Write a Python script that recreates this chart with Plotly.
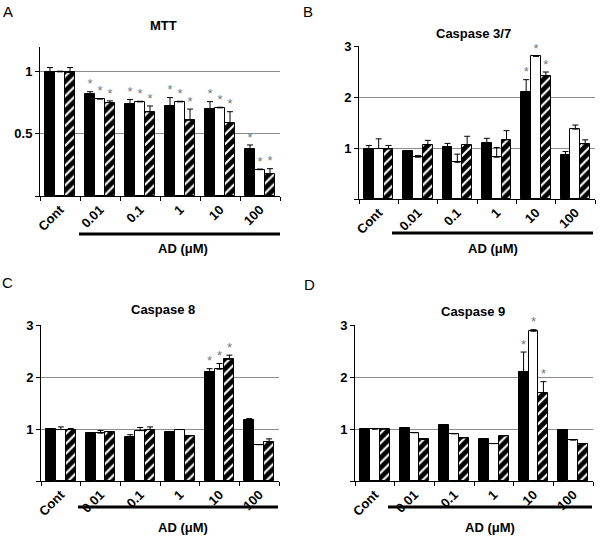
import plotly.graph_objects as go
from plotly.subplots import make_subplots

W, H = 600, 541

groups = ['Cont', '0.01', '0.1', '1', '10', '100']

# MTT
mtt_black = [1.0, 0.82, 0.737, 0.728, 0.70, 0.379]
mtt_black_err = [0.035, 0.02, 0.04, 0.065, 0.06, 0.032]
mtt_white = [1.0, 0.78, 0.758, 0.758, 0.71, 0.212]
mtt_white_err = [0.005, 0.005, 0.005, 0.005, 0.005, 0.005]
mtt_hatch = [0.995, 0.753, 0.677, 0.61, 0.589, 0.18]
mtt_hatch_err = [0.04, 0.013, 0.048, 0.09, 0.09, 0.04]
mtt_sig = [0, 1, 1, 1, 1, 1]

# Caspase 3/7
c37_black = [0.99, 0.95, 1.01, 1.09, 2.10, 0.87]
c37_black_err = [0.06, None, 0.08, 0.10, 0.24, 0.06]
c37_white = [0.99, 0.82, 0.72, 0.82, 2.80, 1.37]
c37_white_err = [0.19, 0.03, 0.16, 0.19, None, 0.08]
c37_hatch = [0.98, 1.05, 1.05, 1.16, 2.41, 1.08]
c37_hatch_err = [0.07, 0.10, 0.18, 0.18, 0.08, 0.08]
c37_sig = [0, 0, 0, 0, 1, 0]

# Caspase 8
c8_black = [1.0, 0.93, 0.85, 0.94, 2.10, 1.17]
c8_black_err = [0.01, None, 0.04, None, 0.06, 0.03]
c8_white = [0.99, 0.92, 0.97, 0.99, 2.15, 0.70]
c8_white_err = [0.05, 0.05, 0.06, None, 0.11, None]
c8_hatch = [0.99, 0.94, 0.99, 0.87, 2.34, 0.75]
c8_hatch_err = [0.02, None, 0.05, None, 0.08, 0.06]
c8_sig = [0, 0, 0, 0, 1, 0]

# Caspase 9
c9_black = [1.0, 1.01, 1.07, 0.80, 2.10, 0.99]
c9_black_err = [None, None, None, None, 0.38, None]
c9_white = [1.0, 0.93, 0.91, 0.72, 2.88, 0.79]
c9_white_err = [None, None, None, None, 0.03, None]
c9_hatch = [1.0, 0.80, 0.83, 0.87, 1.69, 0.71]
c9_hatch_err = [None, None, None, None, 0.22, None]
c9_sig = [0, 0, 0, 0, 1, 0]

panels = [
    dict(letter='A', title='MTT', row=1, col=1,
         series=[(mtt_black, mtt_black_err), (mtt_white, mtt_white_err), (mtt_hatch, mtt_hatch_err)],
         sig=mtt_sig, yrange=[0, 1.2], yticks=[0, 0.5, 1], ytext=['', '0.5', '1'],
         xpx=(40, 280), ypx=(47, 196), letter_pos=(8, 11), title_pos=(163, 25),
         bar_line=(79, 280, 234), ad_pos=(183, 248)),
    dict(letter='B', title='Caspase 3/7', row=1, col=2,
         series=[(c37_black, c37_black_err), (c37_white, c37_white_err), (c37_hatch, c37_hatch_err)],
         sig=c37_sig, yrange=[0, 3], yticks=[0, 1, 2, 3], ytext=['', '1', '2', '3'],
         xpx=(359, 595), ypx=(46, 199), letter_pos=(308, 12), title_pos=(473, 33),
         bar_line=(392, 593, 233), ad_pos=(493, 248)),
    dict(letter='C', title='Caspase 8', row=2, col=1,
         series=[(c8_black, c8_black_err), (c8_white, c8_white_err), (c8_hatch, c8_hatch_err)],
         sig=c8_sig, yrange=[0, 3], yticks=[0, 1, 2, 3], ytext=['', '1', '2', '3'],
         xpx=(41, 279), ypx=(325, 481), letter_pos=(7, 282), title_pos=(163, 309),
         bar_line=(78, 278, 507), ad_pos=(183, 527)),
    dict(letter='D', title='Caspase 9', row=2, col=2,
         series=[(c9_black, c9_black_err), (c9_white, c9_white_err), (c9_hatch, c9_hatch_err)],
         sig=c9_sig, yrange=[0, 3], yticks=[0, 1, 2, 3], ytext=['', '1', '2', '3'],
         xpx=(355, 593), ypx=(325, 481), letter_pos=(309, 284), title_pos=(473, 311),
         bar_line=(388, 592, 507), ad_pos=(490, 527)),
]

offsets = [-0.25, 0.0, 0.25]
styles = [
    dict(color='black'),
    dict(color='white'),
    dict(color='white', pattern=dict(shape='/', fgcolor='black', bgcolor='white',
                                     fgopacity=1, size=7, solidity=0.7)),
]

bold = dict(family='Liberation Sans, Arial', size=13, color='black', weight='bold')

fig = make_subplots(rows=2, cols=2)

for p in panels:
    idx = list(range(len(groups)))
    for k, (vals, errs) in enumerate(p['series']):
        xs = [i + offsets[k] for i in idx]
        fig.add_trace(go.Bar(
            x=xs, y=vals, width=0.25,
            marker=dict(line=dict(color='black', width=1), **styles[k]),
            error_y=dict(type='data', symmetric=False, array=errs,
                         arrayminus=[0] * len(vals), color='black', thickness=1, width=3),
            showlegend=False,
        ), row=p['row'], col=p['col'])
        star_x = [x for x, s in zip(xs, p['sig']) if s]
        star_y = [v + (e or 0) for v, e, s in zip(vals, errs, p['sig']) if s]
        fig.add_trace(go.Scatter(
            x=star_x, y=star_y, mode='text', text=['*'] * len(star_x),
            textposition='top center', cliponaxis=False,
            textfont=dict(family='Liberation Sans, Arial', size=13, color='#777777'),
            showlegend=False, hoverinfo='skip',
        ), row=p['row'], col=p['col'])

    x0, x1 = p['xpx']
    y0, y1 = p['ypx']
    fig.update_xaxes(
        domain=[x0 / W, x1 / W], range=[-0.5, 5.5], automargin=False,
        tickmode='array', tickvals=idx, ticktext=groups, tickangle=-45,
        ticks='', tickfont=bold, showgrid=False, zeroline=False,
        showline=True, linecolor='black', linewidth=1,
        minor=dict(tickmode='linear', tick0=-0.5, dtick=1, ticks='outside',
                   ticklen=4, tickcolor='black', tickwidth=1, showgrid=False),
        row=p['row'], col=p['col'])
    fig.update_yaxes(
        domain=[1 - y1 / H, 1 - y0 / H], range=p['yrange'], automargin=False,
        tickmode='array', tickvals=p['yticks'], ticktext=p['ytext'],
        ticks='outside', ticklen=4, tickcolor='black', tickfont=bold,
        showgrid=True, gridcolor='#8c8c8c', gridwidth=1, zeroline=False,
        showline=True, linecolor='black', linewidth=1,
        row=p['row'], col=p['col'])

    lx, ly = p['letter_pos']
    fig.add_annotation(x=lx / W, y=1 - ly / H, xref='paper', yref='paper',
                       xanchor='center', yanchor='middle',
                       text=p['letter'], showarrow=False,
                       font=dict(family='Liberation Sans, Arial', size=15, color='black'))
    tx, ty = p['title_pos']
    fig.add_annotation(x=tx / W, y=1 - ty / H, xref='paper', yref='paper',
                       xanchor='center', yanchor='middle',
                       text=p['title'], showarrow=False, font=bold)
    bx0, bx1, by = p['bar_line']
    fig.add_shape(type='line', xref='paper', yref='paper',
                  x0=bx0 / W, x1=bx1 / W, y0=1 - by / H, y1=1 - by / H,
                  line=dict(color='black', width=3))
    ax, ay = p['ad_pos']
    fig.add_annotation(x=ax / W, y=1 - ay / H, xref='paper', yref='paper',
                       xanchor='center', yanchor='middle',
                       text='AD (μM)', showarrow=False, font=bold)

fig.update_layout(
    width=W, height=H,
    margin=dict(l=0, r=0, t=0, b=0, pad=0, autoexpand=False),
    paper_bgcolor='white', plot_bgcolor='white',
    barmode='overlay', bargap=0,
    showlegend=False,
)

fig.write_html(
    "out.html",
    config={'displayModeBar': False},
    post_script=("document.body.style.margin='0';"
                 "var d=document.getElementById('{plot_id}');"
                 "d.style.position='absolute';d.style.left='0px';d.style.top='0px';"),
)
